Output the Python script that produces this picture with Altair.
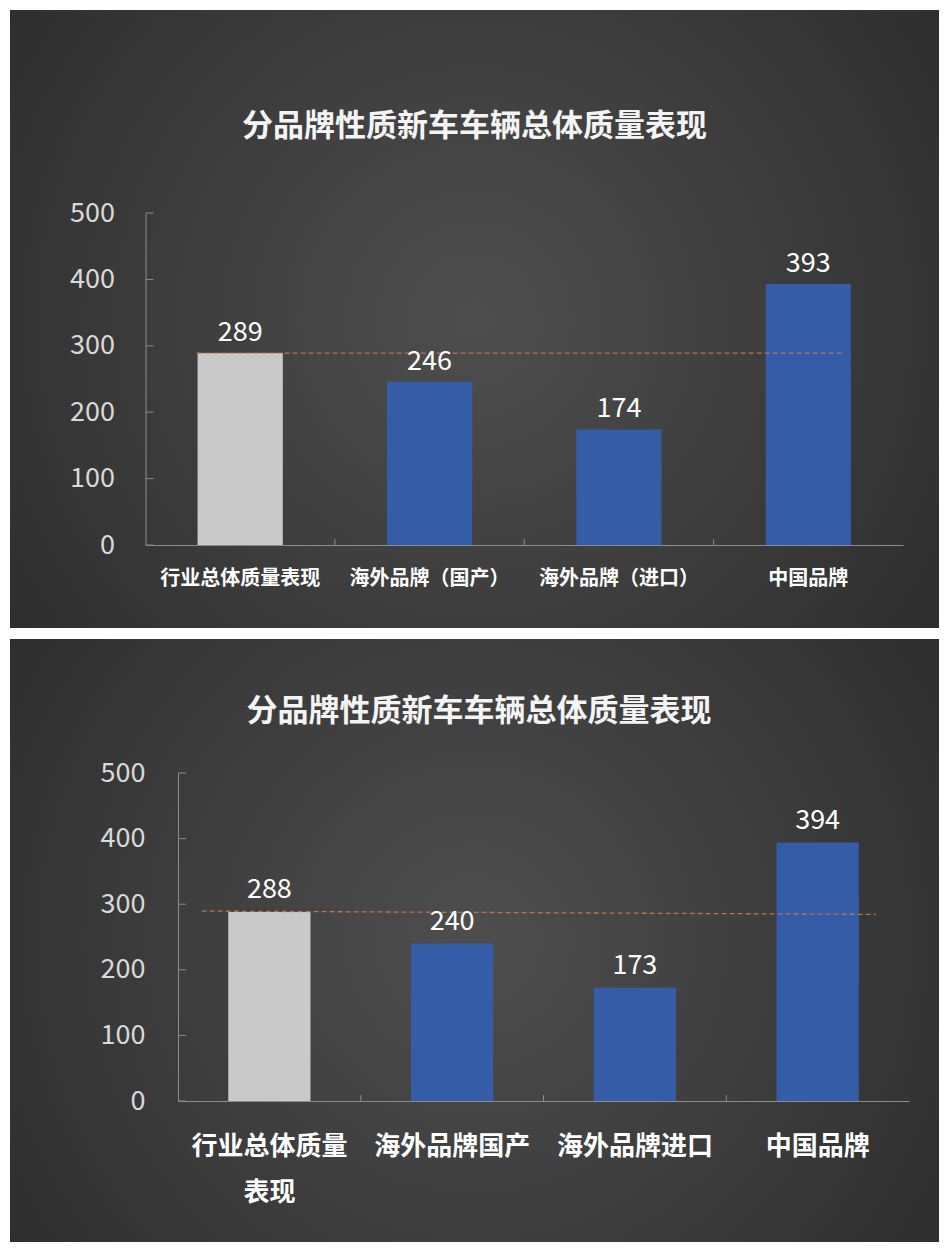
import altair as alt
import pandas as pd

TITLE = "分品牌性质新车车辆总体质量表现"

# Panel 1 data
cats1 = ["行业总体质量表现", "海外品牌（国产）", "海外品牌（进口）", "中国品牌"]
vals1 = [289, 246, 174, 393]
avg1 = [289, 289]          # dashed reference line (start, end)

# Panel 2 data
cats2 = ["行业总体质量表现", "海外品牌国产", "海外品牌进口", "中国品牌"]
vals2 = [288, 240, 173, 394]
avg2 = [289.5, 284.5]

y_ticks = [0, 100, 200, 300, 400, 500]
GREY_BAR = "#c9c9c9"
BLUE_BAR = "#355ca6"

FONT = "Noto Sans CJK SC"
AXIS_GREY = "#8c8c8c"

# both panels share the same plot origin (concat aligns them); panel 1's
# axes are shifted outwards by `shift` px so that they sit where the reference has them
LEFT_EXT = 168


def panel(cats, vals, avg, W, H, shift, bg_right, bg_top, bg_bottom, title_xy,
          title_size, xl_size, xl_pad, val_size, val_dy, yl_size, yl_pad,
          line_bp, split_first=False):
    df = pd.DataFrame({"cat": cats, "val": vals})
    xs = alt.Scale(domain=cats, paddingInner=0, paddingOuter=0,
                   range=[-shift, W])
    ys = alt.Scale(domain=[0, 500], nice=False, zero=True)

    grad = {
        "gradient": "radial",
        "stops": [{"offset": 0, "color": "#4e4e4e"},
                  {"offset": 1, "color": "#282828"}],
        "x1": 0.5, "y1": 0.5, "x2": 0.5, "y2": 0.5, "r1": 0, "r2": 0.72,
    }
    bgl = alt.Chart(pd.DataFrame({"k": [0]})).mark_rect(fill=grad).encode(
        x=alt.value(-LEFT_EXT), x2=alt.value(bg_right),
        y=alt.value(bg_top), y2=alt.value(bg_bottom),
    )

    xaxis = dict(
        title=None, labelAngle=0, labelAlign="center", labelBaseline="top",
        ticks=False, tickSize=0, domainColor=AXIS_GREY,
        domainWidth=1, labelColor="#ffffff", labelFont=FONT, labelFontWeight="bold",
        labelFontSize=xl_size, labelPadding=xl_pad, labelLimit=0, zindex=1,
        labelOverlap=False, labelFlush=False,
    )
    if split_first:
        xaxis["labelExpr"] = ("datum.value == '行业总体质量表现' ? "
                              "['行业总体质量', '表现'] : datum.value")
        xaxis["labelLineHeight"] = 46

    bars = alt.Chart(df).mark_bar(width=alt.RelativeBandSize(0.45)).encode(
        x=alt.X("cat:N", scale=xs, sort=cats, axis=alt.Axis(**xaxis), title=None),
        y=alt.Y("val:Q", scale=ys, title=None, axis=alt.Axis(
            values=y_ticks, grid=False, ticks=False, tickSize=0, offset=shift,
            domainColor=AXIS_GREY, domainWidth=1, labelColor="#d9d9d9",
            labelFont=FONT, labelFontSize=yl_size, labelPadding=yl_pad,
            zindex=1, title=None)),
        color=alt.condition(alt.datum.cat == cats[0], alt.value(GREY_BAR),
                            alt.value(BLUE_BAR)),
    )

    labels = alt.Chart(df).mark_text(
        font=FONT, fontSize=val_size, color="#ffffff", baseline="alphabetic",
        dy=val_dy,
    ).encode(
        x=alt.X("cat:N", scale=xs, sort=cats, title=None),
        y=alt.Y("val:Q", scale=ys, title=None),
        text=alt.Text("val:Q"),
    )

    ldf = pd.DataFrame({"c0": [cats[0]], "c1": [cats[-1]],
                        "y0": [avg[0]], "y1": [avg[1]]})
    avg_line = alt.Chart(ldf).mark_rule(
        color="#c07a55", strokeDash=[5, 3], strokeWidth=1.3, opacity=0.9,
    ).encode(
        x=alt.X("c0:N", scale=xs, bandPosition=line_bp[0], title=None),
        x2=alt.X2("c1", bandPosition=line_bp[1]),
        y=alt.Y("y0:Q", scale=ys, title=None),
        y2="y1",
    )

    yt = alt.Chart(pd.DataFrame({"v": y_ticks})).mark_rule(
        color=AXIS_GREY, strokeWidth=1).encode(
        y=alt.Y("v:Q", scale=ys, title=None),
        x=alt.value(-shift), x2=alt.value(-shift + 8),
    )
    xt = alt.Chart(pd.DataFrame({"c": cats[1:]})).mark_rule(
        color=AXIS_GREY, strokeWidth=1).encode(
        x=alt.X("c:N", scale=xs, bandPosition=0, title=None),
        y=alt.value(H), y2=alt.value(H - 6),
    )

    title = alt.Chart(pd.DataFrame({"k": [0]})).mark_text(
        text=TITLE, font=FONT, fontSize=title_size, fontWeight="bold",
        color="#f4f4f4", align="center", baseline="middle",
    ).encode(x=alt.value(title_xy[0]), y=alt.value(title_xy[1]))

    return alt.layer(bgl, yt, xt, bars, avg_line, labels, title).properties(
        width=W, height=H)


W1, H1 = 725, 332
p1 = panel(cats1, vals1, avg1, W1, H1, shift=32.5,
           bg_right=W1 + 36, bg_top=-203, bg_bottom=H1 + 83,
           title_xy=(296.5, -86.5), title_size=31, xl_size=20, xl_pad=23,
           val_size=27, val_dy=-12, yl_size=27, yl_pad=31, line_bp=(0.27, 0.68))

W2, H2 = 731, 328
p2 = panel(cats2, vals2, avg2, W2, H2, shift=0,
           bg_right=W2 + 30, bg_top=-134, bg_bottom=H2 + 141,
           title_xy=(301, -61.5), title_size=31, xl_size=26, xl_pad=32,
           val_size=27, val_dy=-14, yl_size=27, yl_pad=33, line_bp=(0.13, 0.82),
           split_first=True)

chart = alt.vconcat(p1, p2, spacing=11).properties(
    padding={"left": 2, "top": 2, "right": 0, "bottom": 0},
    background="white",
).configure_view(stroke=None)

chart.save("out.html", embed_options={"renderer": "svg", "actions": False})
